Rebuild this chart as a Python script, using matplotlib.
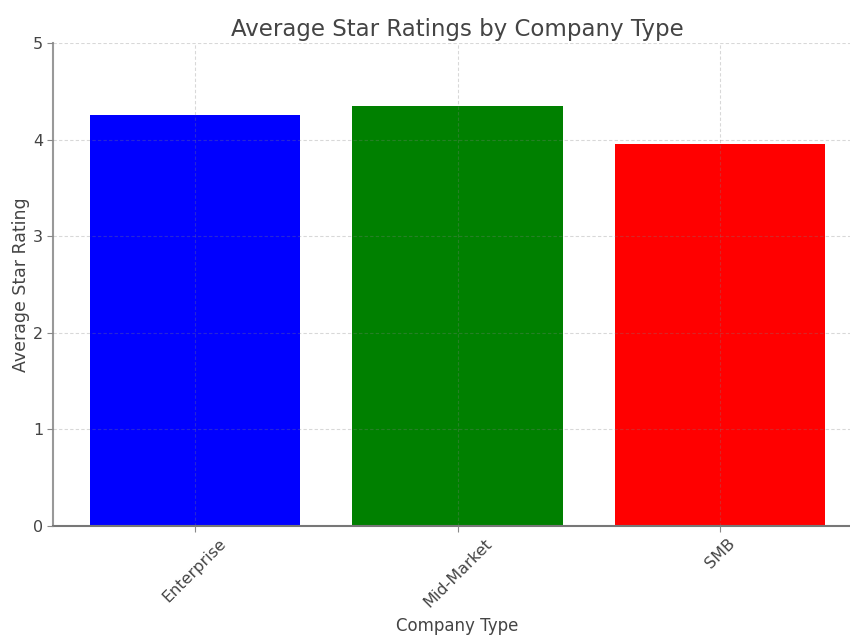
import matplotlib
matplotlib.use("Agg")
import matplotlib.pyplot as plt

categories = ["Enterprise", "Mid-Market", "SMB"]
ratings = [4.25, 4.35, 3.95]
colors = ["blue", "green", "red"]

fig = plt.figure(figsize=(8.5, 6.35), dpi=100)
ax = fig.add_axes([53/850, 1-526/635, (862-53)/850, (526-43)/635])
ax.bar(categories, ratings, color=colors, width=0.8)
ax.set_ylim(0, 5)
ax.set_xlim(-0.54, 2.54)
ax.set_yticks([0, 1, 2, 3, 4, 5])
txtc = "#444444"
ax.set_title("Average Star Ratings by Company Type", fontsize=16.5, color=txtc, pad=5)
ax.set_xlabel("Company Type", fontsize=12, color=txtc, labelpad=5)
ax.set_ylabel("Average Star Rating", fontsize=12.5, color=txtc, labelpad=2)
ax.tick_params(axis="both", labelsize=11.5, labelcolor=txtc, color="#888888", length=4, pad=3)
plt.setp(ax.get_xticklabels(), rotation=45)
ax.grid(True, linestyle=(0, (3, 2)), color="gray", alpha=0.3, linewidth=0.8)
ax.set_axisbelow(False)
for s in ["top", "right"]:
    ax.spines[s].set_visible(False)
ax.spines["left"].set_color("#999999")
ax.spines["bottom"].set_color("#777777")
ax.spines["left"].set_linewidth(1.5)
ax.spines["bottom"].set_linewidth(1.5)
fig.savefig("out.png", dpi=100)
